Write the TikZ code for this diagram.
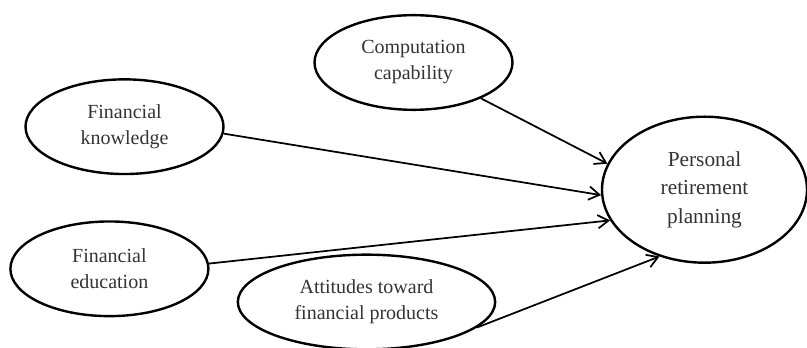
\documentclass[tikz,border=0pt]{standalone}
\usepackage{fontspec}
\setmainfont{Liberation Serif}
\usetikzlibrary{arrows.meta,shapes.geometric}

\begin{document}
\begin{tikzpicture}[x=0.75pt,y=-0.75pt,
  factor/.style={ellipse, draw, line width=1.8pt, inner sep=0pt,
    minimum width=148.5pt, minimum height=71pt, align=center,
    text=black!80, font=\fontsize{15}{19.5}\selectfont},
  link/.style={line width=1.3pt, -{Straight Barb[length=8pt,width=10pt]}}]
\useasboundingbox (0,0) rectangle (807,348);
\node[factor] (comp) at (413.5,62.5) {Computation\\capability};
\node[factor] (know) at (124.5,126.7) {Financial\\knowledge};
\node[factor] (edu) at (109.4,268.8) {Financial\\education};
\node[factor, minimum width=193pt] (att) at (366.5,302) {Attitudes toward\\financial products};
\node[factor, minimum width=153.75pt, minimum height=109.5pt,
  font=\fontsize{16}{21.5}\selectfont] (plan) at (704.5,189.7) {Personal\\retirement\\planning};
%\node[factor] (plan) at (700,190) {Personal retirement planning};
\draw[link] (comp.-28) -- (plan.165);
\draw[link] (know.-4) -- (plan.-177);
\draw[link] (edu.3) -- (plan.-162);
\draw[link] (att.-13) -- (plan.-124);
\end{tikzpicture}
\end{document}
